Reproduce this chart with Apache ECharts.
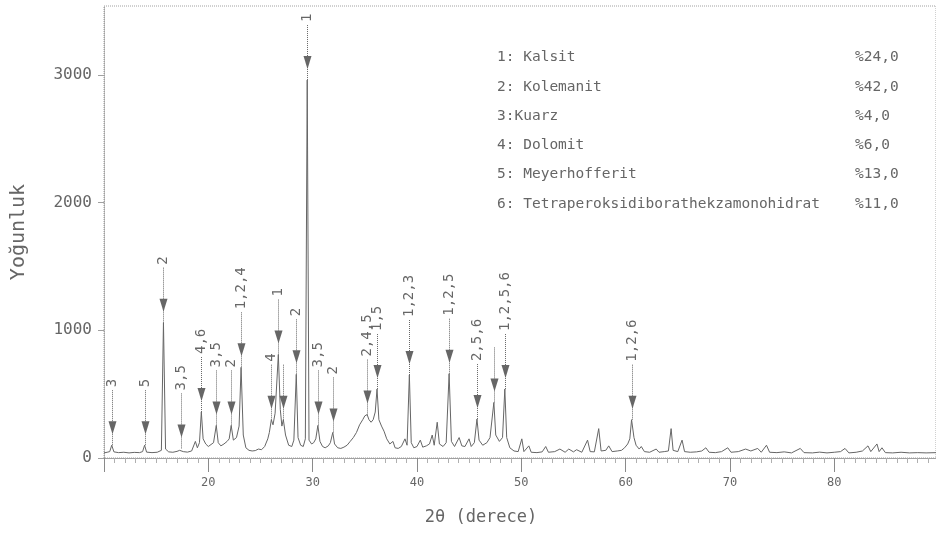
<!DOCTYPE html>
<html>
<head>
<meta charset="utf-8">
<script src="https://cdn.jsdelivr.net/npm/echarts@6/dist/echarts.min.js"></script>
<style>
  html, body { margin: 0; padding: 0; background: #fff; }
  #chart { width: 936px; height: 545px; }
</style>
</head>
<body>
<div id="chart"></div>
<script>
// XRD pattern: 2θ (degrees) and intensity (counts)
const twoTheta = [
  10.00, 10.30, 10.55, 10.74, 10.95, 11.40, 11.90, 12.40, 12.90, 13.40, 13.70, 13.89, 14.08, 14.60,
  15.10, 15.50, 15.70, 15.90, 16.20, 16.60, 17.00, 17.25, 17.42, 17.60, 18.00, 18.40, 18.76, 18.95,
  19.15, 19.33, 19.50, 19.75, 20.00, 20.50, 20.76, 20.95, 21.20, 21.50, 21.80, 22.00, 22.19, 22.40,
  22.70, 22.95, 23.14, 23.35, 23.60, 23.90, 24.20, 24.50, 24.80, 25.10, 25.40, 25.70, 25.85, 26.04,
  26.20, 26.40, 26.71, 26.90, 27.05, 27.19, 27.40, 27.70, 28.00, 28.20, 28.43, 28.60, 28.85, 29.10,
  29.30, 29.48, 29.65, 29.90, 30.10, 30.30, 30.50, 30.70, 30.95, 31.20, 31.50, 31.70, 31.93, 32.10,
  32.40, 32.70, 33.00, 33.30, 33.60, 33.90, 34.20, 34.50, 34.80, 35.00, 35.22, 35.40, 35.60, 35.80,
  36.00, 36.17, 36.35, 36.60, 36.84, 37.10, 37.40, 37.70, 37.90, 38.20, 38.50, 38.85, 39.05, 39.27,
  39.45, 39.70, 40.00, 40.32, 40.55, 40.90, 41.20, 41.46, 41.65, 41.94, 42.15, 42.50, 42.80, 43.08,
  43.30, 43.60, 44.04, 44.30, 44.60, 44.99, 45.20, 45.50, 45.75, 45.95, 46.30, 46.70, 47.00, 47.37,
  47.55, 47.90, 48.20, 48.42, 48.60, 48.90, 49.30, 49.70, 50.05, 50.25, 50.72, 50.95, 51.50, 52.00,
  52.34, 52.60, 53.20, 53.70, 54.20, 54.55, 55.00, 55.30, 55.80, 56.35, 56.60, 57.00, 57.42, 57.65,
  58.10, 58.38, 58.70, 59.20, 59.60, 59.90, 60.20, 60.40, 60.57, 60.80, 61.00, 61.30, 61.50, 61.80,
  62.30, 62.93, 63.20, 63.70, 64.10, 64.36, 64.55, 65.00, 65.41, 65.65, 66.20, 66.80, 67.30, 67.69,
  68.00, 68.60, 69.20, 69.79, 70.10, 70.80, 71.50, 72.00, 72.66, 73.00, 73.50, 73.80, 74.50, 75.20,
  75.90, 76.74, 77.10, 77.90, 78.60, 79.30, 80.00, 80.60, 81.03, 81.40, 82.10, 82.70, 83.23, 83.50,
  84.09, 84.30, 84.57, 84.90, 85.60, 86.40, 87.20, 88.00, 88.80, 89.75
];
const intensity = [
  40, 45, 50, 100, 48, 42, 45, 40, 44, 42, 50, 100, 46, 42,
  45, 60, 1060, 70, 48, 45, 52, 60, 75, 50, 46, 55, 130, 80,
  120, 360, 150, 110, 90, 120, 255, 120, 95, 110, 130, 150, 255, 140,
  160, 250, 710, 180, 80, 60, 55, 58, 70, 65, 90, 150, 200, 300,
  260, 350, 810, 380, 250, 300, 180, 100, 90, 140, 655, 160, 100, 90,
  150, 2960, 140, 110, 120, 150, 255, 130, 90, 80, 95, 120, 200, 110,
  80, 75, 85, 100, 130, 160, 200, 260, 300, 330, 340, 300, 280, 300,
  360, 540, 300, 250, 210, 150, 110, 130, 80, 75, 90, 150, 100, 650,
  120, 80, 90, 140, 85, 95, 110, 180, 100, 280, 110, 90, 120, 660,
  130, 90, 160, 95, 90, 150, 90, 120, 305, 140, 100, 120, 160, 435,
  180, 130, 160, 540, 160, 80, 55, 50, 150, 50, 95, 45, 42, 48,
  90, 45, 50, 70, 45, 70, 48, 65, 45, 140, 50, 48, 230, 55,
  60, 95, 50, 55, 60, 80, 110, 150, 300, 160, 100, 70, 90, 50,
  45, 70, 45, 50, 55, 230, 60, 50, 140, 50, 45, 48, 55, 80,
  45, 42, 50, 80, 45, 50, 70, 55, 75, 45, 100, 45, 42, 48,
  40, 75, 42, 40, 46, 40, 45, 50, 75, 40, 45, 55, 95, 50,
  110, 50, 80, 42, 40, 45, 40, 42, 40, 42
];

// Phase markers on the peaks
const peakAngles = [10.74, 13.89, 15.70, 17.42, 19.33, 20.76, 22.19, 23.14, 26.04, 26.71, 27.19, 28.43,
  29.48, 30.50, 31.93, 35.22, 36.17, 39.27, 43.08, 45.75, 47.37, 48.42, 60.57];
const peakLabels = ['3', '5', '2', '3,5', '4,6', '3,5', '2', '1,2,4', '4', '1', '', '2',
  '1', '3,5', '2', '2,4,5', '1,5', '1,2,3', '1,2,5', '2,5,6', '', '1,2,5,6', '1,2,6'];

// Phase list with fractions
const phaseNames = ['1: Kalsit', '2: Kolemanit', '3:Kuarz', '4: Dolomit', '5: Meyerhofferit',
  '6: Tetraperoksidiborathekzamonohidrat'];
const phaseShares = ['%24,0', '%42,0', '%4,0', '%6,0', '%13,0', '%11,0'];

const xTicks = { min: 10, max: 89.75, interval: 10 };
const yTicks = { min: 0, max: 3540, interval: 1000 };

const MONO = '"DejaVu Sans Mono", "Liberation Mono", monospace';
const INK = '#666666';

const seriesData = twoTheta.map((t, i) => [t, intensity[i]]);
const markerData = peakAngles.map((a, i) => {
  const k = twoTheta.indexOf(a);
  return [a, intensity[k], i];
});

const chart = echarts.init(document.getElementById('chart'), null, { renderer: 'canvas' });

function renderMarker(params, api) {
  const p = api.coord([api.value(0), api.value(1)]);
  const x = Math.round(p[0]) + 0.5;
  const top = p[1];
  const labelBase = top - 55;
  const text = peakLabels[api.value(2)];
  const children = [
    { type: 'line', shape: { x1: x, y1: labelBase, x2: x, y2: top },
      style: { stroke: INK, lineWidth: 1, lineDash: [1, 1] } },
    { type: 'polygon', shape: { points: [[x - 4, top - 24], [x + 4, top - 24], [x, top - 11]] },
      style: { fill: INK } }
  ];
  if (text) {
    children.push({ type: 'text', x: x, y: labelBase - 3, rotation: Math.PI / 2,
      style: { text: text, font: '14px ' + MONO, fill: INK, align: 'left', verticalAlign: 'middle' } });
  }
  return { type: 'group', children: children };
}

const legendGraphics = [];
phaseNames.forEach((name, i) => {
  const cy = 57.5 + i * 29.3;
  legendGraphics.push({ type: 'text', x: 497, y: cy,
    style: { text: name, font: '14.5px ' + MONO, fill: INK, verticalAlign: 'middle' } });
  legendGraphics.push({ type: 'text', x: 855, y: cy,
    style: { text: phaseShares[i], font: '14.5px ' + MONO, fill: INK, verticalAlign: 'middle' } });
});

chart.setOption({
  animation: false,
  backgroundColor: '#ffffff',
  grid: { left: 104, top: 6, right: -5, bottom: 87, show: true,
    borderColor: '#a0a0a0', borderWidth: 1, borderType: 'dotted' },
  xAxis: {
    type: 'value', min: xTicks.min, max: xTicks.max, interval: xTicks.interval,
    axisLine: { show: true, lineStyle: { color: '#a0a0a0', width: 1 } },
    axisTick: { show: true, length: 14, lineStyle: { color: '#8a8a8a' } },
    minorTick: { show: true, splitNumber: 10, length: 5, lineStyle: { color: '#b0b0b0' } },
    splitLine: { show: false },
    axisLabel: { showMinLabel: false, showMaxLabel: false, margin: 19,
      fontFamily: MONO, fontSize: 12, color: INK }
  },
  yAxis: {
    type: 'value', min: yTicks.min, max: yTicks.max, interval: yTicks.interval,
    axisLine: { show: true, lineStyle: { color: '#a0a0a0', width: 1, type: 'dotted' } },
    axisTick: { show: true, length: 6, lineStyle: { color: '#a0a0a0' } },
    splitLine: { show: false },
    axisLabel: { showMaxLabel: false, margin: 12, fontFamily: MONO, fontSize: 16, color: INK,
      formatter: (v) => String(v) }
  },
  graphic: [
    { type: 'text', x: 19, y: 232, rotation: Math.PI / 2,
      style: { text: 'Yoğunluk', font: '20px ' + MONO, fill: INK, align: 'center', verticalAlign: 'middle' } },
    { type: 'text', x: 481, y: 518,
      style: { text: '2θ (derece)', font: '17px ' + MONO, fill: INK, align: 'center', verticalAlign: 'middle' } }
  ].concat(legendGraphics),
  series: [
    { type: 'line', data: seriesData, showSymbol: false, symbol: 'none',
      lineStyle: { color: '#666', width: 1 }, z: 2 },
    { type: 'custom', data: markerData, renderItem: renderMarker, z: 3, clip: false }
  ]
});
</script>
</body>
</html>
